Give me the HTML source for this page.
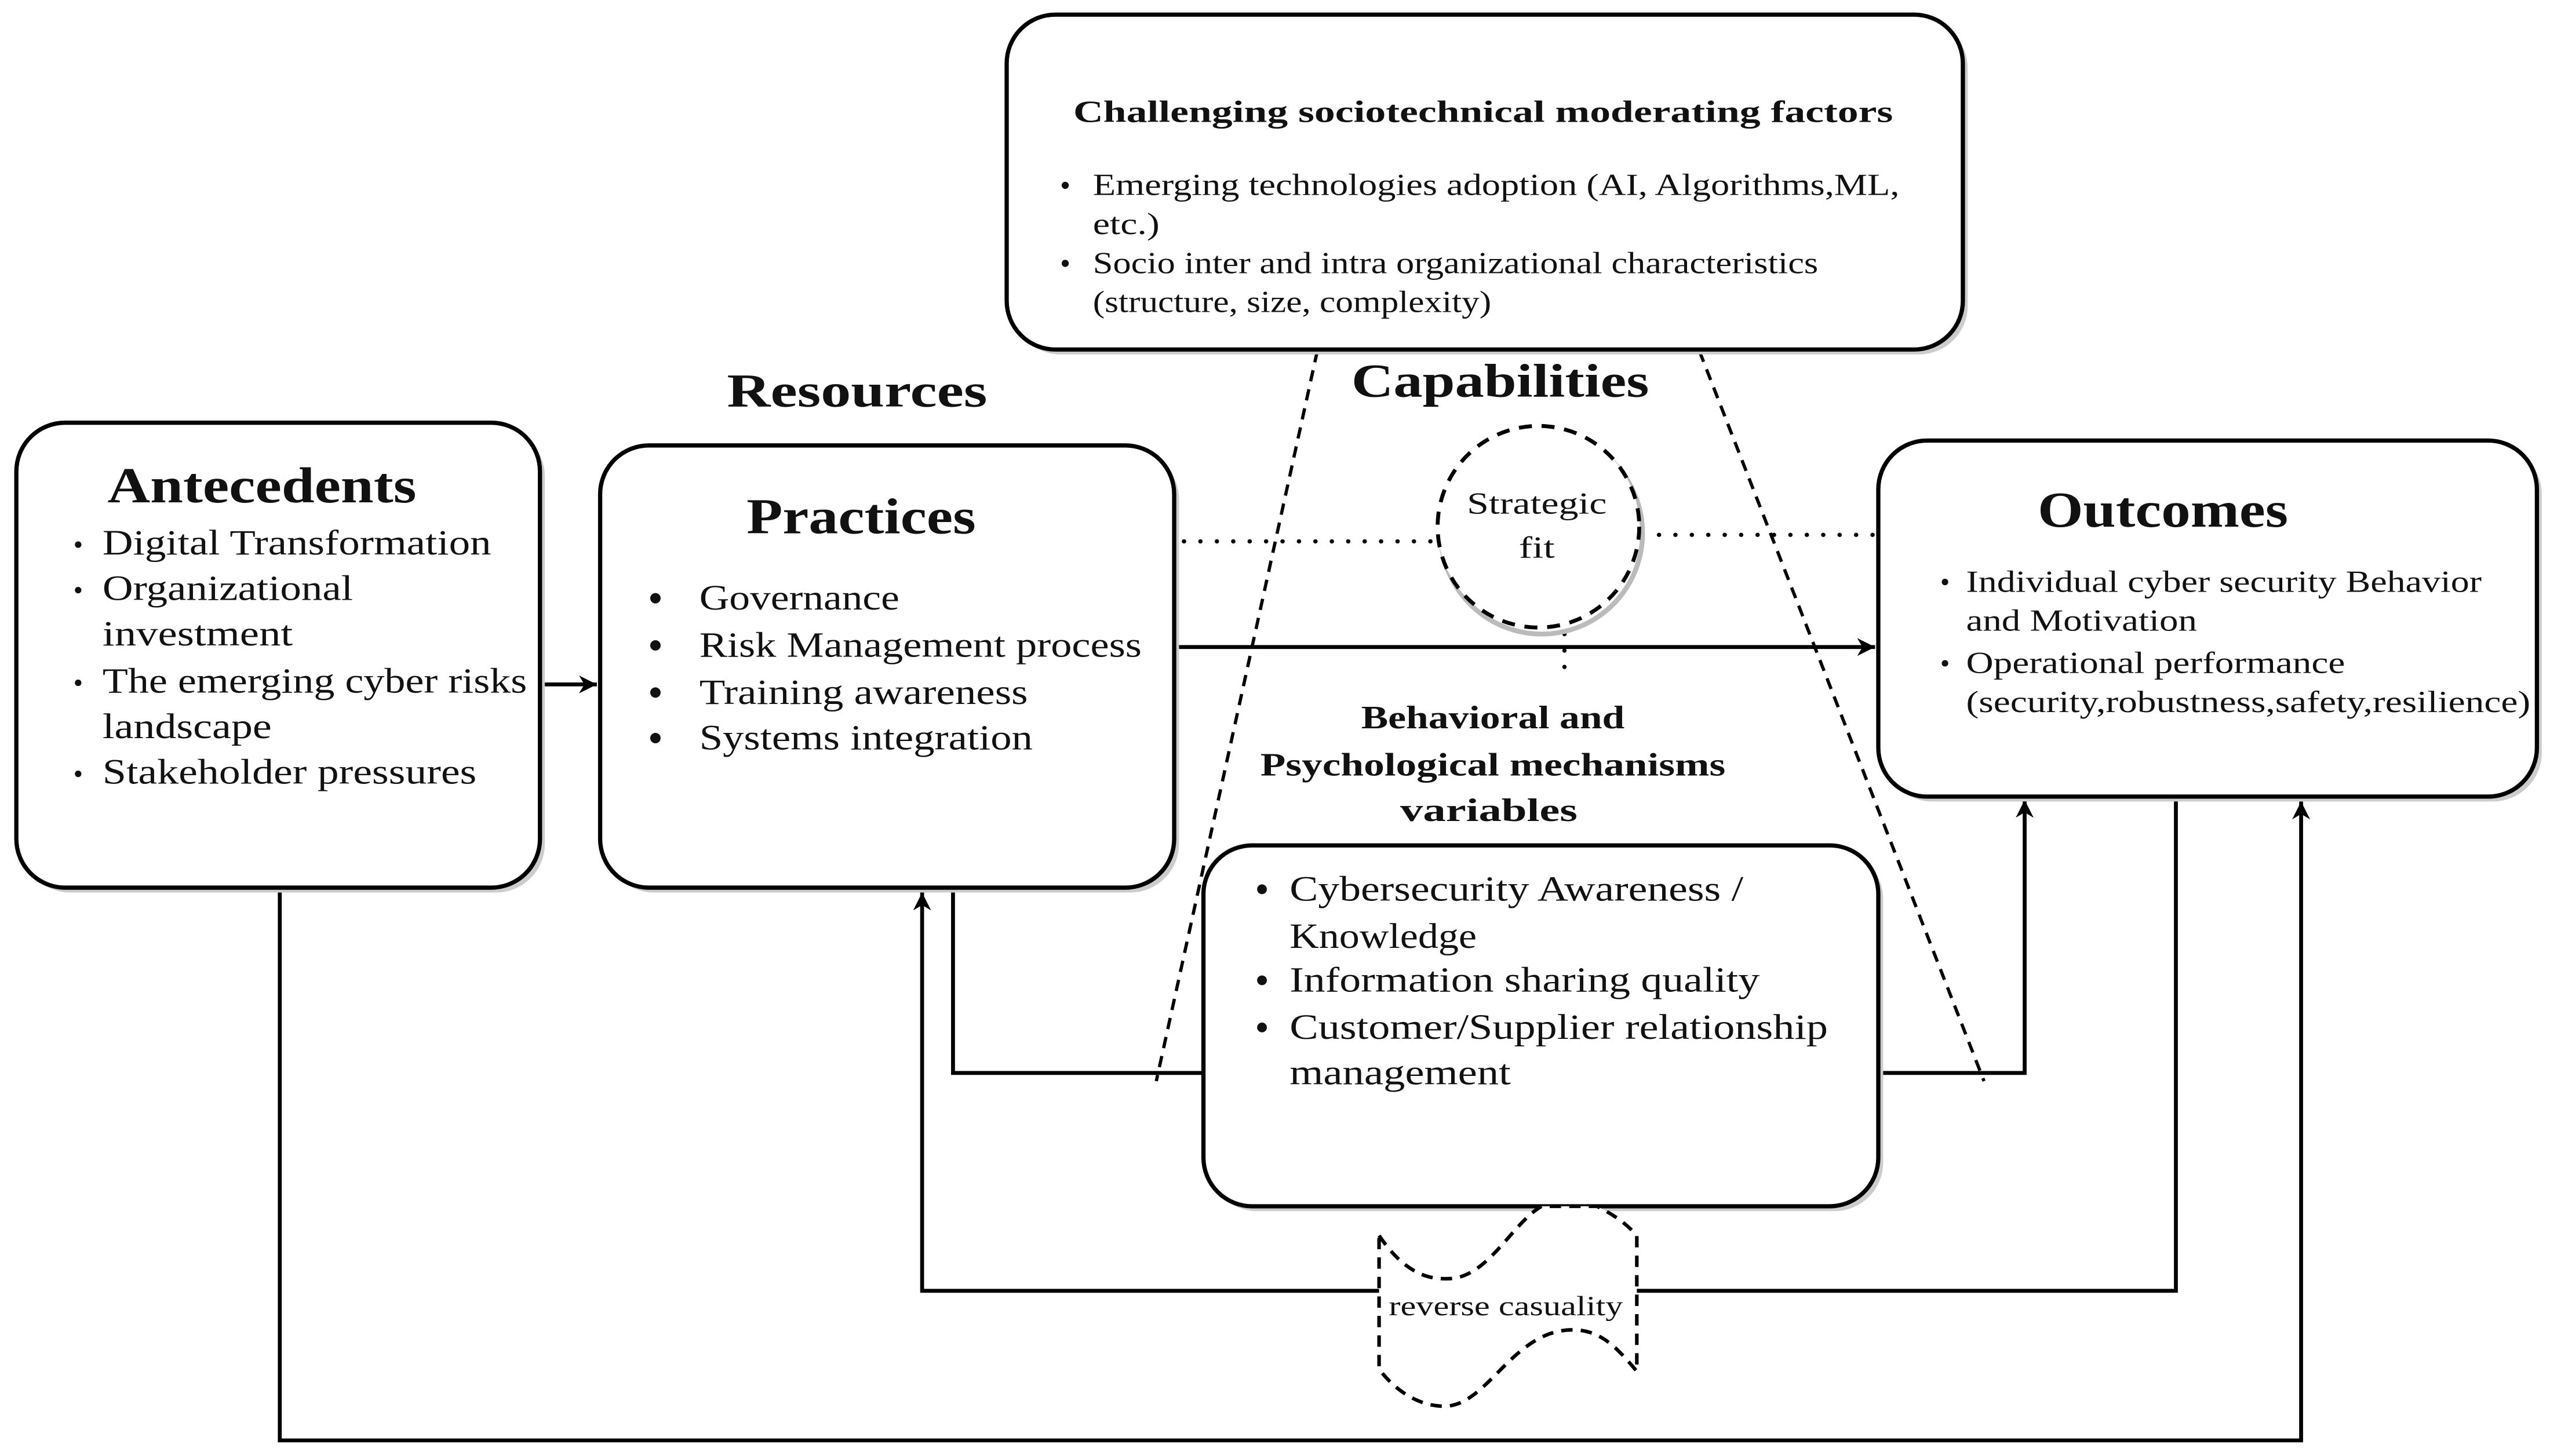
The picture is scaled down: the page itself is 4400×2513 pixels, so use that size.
<!DOCTYPE html>
<html><head><meta charset="utf-8"><style>
html,body{margin:0;padding:0;background:#fff;}
svg{display:block;}
text{font-family:"Liberation Serif",serif;fill:#111;}
.b{font-weight:bold;}
</style></head><body>
<svg width="4400" height="2513" viewBox="0 0 1568 895.6" xmlns="http://www.w3.org/2000/svg">
<defs>
<marker id="ar" viewBox="0 0 10 10" refX="10" refY="5" markerWidth="11" markerHeight="11" orient="auto" markerUnits="userSpaceOnUse">
<path d="M0,0 L10,5 L0,10 L3,5 z" fill="#000"/>
</marker>
</defs>
<g fill="none" stroke="#000" stroke-width="2.4">
<path d="M172,546 V886 H1415 V493" marker-end="url(#ar)"/>
<path d="M1338,490 V794 H567 V549" marker-end="url(#ar)"/>
<path d="M586,546 V660 H740"/>
<path d="M1155,660 H1245 V492" marker-end="url(#ar)"/>
<path d="M332,421 H367" marker-end="url(#ar)"/>
<path d="M722,398 H1153" marker-end="url(#ar)"/>
</g>
<g fill="none" stroke="#000" stroke-width="2.6" stroke-dasharray="0.1,10" stroke-linecap="round">
<path d="M728,333 H884"/>
<path d="M1010,329 H1155"/>
<path d="M962,390 V412"/>
</g>
<g fill="none" stroke="#000" stroke-width="2" stroke-dasharray="7,5">
<path d="M810,216 L711,665"/>
<path d="M1045,216 L1220,665"/>
</g>
<g fill="#ccc">
<rect x="622" y="12" width="588" height="206" rx="30"/>
<rect x="13" y="263" width="322" height="286" rx="30"/>
<rect x="372" y="277" width="353" height="272" rx="30"/>
<rect x="1158" y="274" width="405" height="219" rx="30"/>
<rect x="743" y="523" width="415" height="222" rx="30"/>
</g>
<g fill="#fff" stroke="#000" stroke-width="2.6">
<rect x="619" y="9" width="588" height="206" rx="30"/>
<rect x="10" y="260" width="322" height="286" rx="30"/>
<rect x="369" y="274" width="353" height="272" rx="30"/>
<rect x="1155" y="271" width="405" height="219" rx="30"/>
<rect x="740" y="520" width="415" height="222" rx="30"/>
</g>
<circle cx="947" cy="326" r="62" fill="#fff" stroke="#bbb" stroke-width="3" transform="translate(1,2)"/>
<circle cx="946" cy="324" r="62" fill="#fff" stroke="#000" stroke-width="2.4" stroke-dasharray="8,6"/>
<path d="M848,760 C865,785 880,787 891,786.5 C915,786 930,752 948,742 L982,742 Q998,750 1006.5,760 L1006.5,843.5 C995,830 985,818 967,818 C930,818 915,865 888,865 C870,865 855,852 848,842 Z" fill="#fff" stroke="#000" stroke-width="2.2" stroke-dasharray="7,5"/>
<text x="854" y="809" font-size="17" textLength="144" lengthAdjust="spacingAndGlyphs">reverse casuality</text>

<text class="b" x="660" y="75" font-size="19" textLength="504" lengthAdjust="spacingAndGlyphs">Challenging  sociotechnical moderating factors</text>
<circle cx="655" cy="114" r="2.2" fill="#111"/>
<text x="672" y="120" font-size="19" textLength="496" lengthAdjust="spacingAndGlyphs">Emerging technologies adoption  (AI, Algorithms,ML,</text>
<text x="672" y="144" font-size="19" textLength="41" lengthAdjust="spacingAndGlyphs">etc.)</text>
<circle cx="655" cy="162" r="2.2" fill="#111"/>
<text x="672" y="168" font-size="19" textLength="446" lengthAdjust="spacingAndGlyphs">Socio  inter and intra organizational  characteristics</text>
<text x="672" y="192" font-size="19" textLength="245" lengthAdjust="spacingAndGlyphs">(structure, size,  complexity)</text>

<text class="b" x="447" y="250" font-size="29" textLength="160" lengthAdjust="spacingAndGlyphs">Resources</text>
<text class="b" x="831" y="244" font-size="29" textLength="183" lengthAdjust="spacingAndGlyphs">Capabilities</text>

<text class="b" x="66" y="309" font-size="31" textLength="190" lengthAdjust="spacingAndGlyphs">Antecedents</text>
<g font-size="22">
<circle cx="48" cy="335" r="2" fill="#111"/>
<text x="63" y="341" textLength="239" lengthAdjust="spacingAndGlyphs">Digital Transformation</text>
<circle cx="48" cy="363" r="2" fill="#111"/>
<text x="63" y="369" textLength="154" lengthAdjust="spacingAndGlyphs">Organizational</text>
<text x="63" y="397" textLength="117" lengthAdjust="spacingAndGlyphs">investment</text>
<circle cx="48" cy="420" r="2" fill="#111"/>
<text x="63" y="426" textLength="261" lengthAdjust="spacingAndGlyphs">The emerging cyber risks</text>
<text x="63" y="454" textLength="104" lengthAdjust="spacingAndGlyphs">landscape</text>
<circle cx="48" cy="476" r="2" fill="#111"/>
<text x="63" y="482" textLength="230" lengthAdjust="spacingAndGlyphs">Stakeholder pressures</text>
</g>

<text class="b" x="459" y="328" font-size="31" textLength="141" lengthAdjust="spacingAndGlyphs">Practices</text>
<g font-size="22" fill="#111">
<circle cx="403" cy="368" r="3.2"/><text x="430" y="375" textLength="123" lengthAdjust="spacingAndGlyphs">Governance</text>
<circle cx="403" cy="397" r="3.2"/><text x="430" y="404" textLength="272" lengthAdjust="spacingAndGlyphs">Risk Management process</text>
<circle cx="403" cy="426" r="3.2"/><text x="430" y="433" textLength="202" lengthAdjust="spacingAndGlyphs">Training awareness</text>
<circle cx="403" cy="454" r="3.2"/><text x="430" y="461" textLength="205" lengthAdjust="spacingAndGlyphs">Systems integration</text>
</g>

<text class="b" x="1253" y="324" font-size="31" textLength="154" lengthAdjust="spacingAndGlyphs">Outcomes</text>
<g font-size="19">
<circle cx="1196" cy="358" r="2" fill="#111"/>
<text x="1209" y="364" textLength="317" lengthAdjust="spacingAndGlyphs">Individual cyber security Behavior</text>
<text x="1209" y="388" textLength="142" lengthAdjust="spacingAndGlyphs">and Motivation</text>
<circle cx="1196" cy="408" r="2" fill="#111"/>
<text x="1209" y="414" textLength="233" lengthAdjust="spacingAndGlyphs">Operational performance</text>
<text x="1209" y="438" textLength="347" lengthAdjust="spacingAndGlyphs">(security,robustness,safety,resilience)</text>
</g>

<g class="b" font-size="20">
<text x="837" y="448" textLength="162" lengthAdjust="spacingAndGlyphs">Behavioral and</text>
<text x="775" y="477" textLength="286" lengthAdjust="spacingAndGlyphs">Psychological mechanisms</text>
<text x="861" y="505" textLength="109" lengthAdjust="spacingAndGlyphs">variables</text>
</g>
<g font-size="22" fill="#111">
<circle cx="776" cy="547" r="3"/><text x="793" y="554" textLength="279" lengthAdjust="spacingAndGlyphs">Cybersecurity Awareness /</text>
<text x="793" y="583" textLength="115" lengthAdjust="spacingAndGlyphs">Knowledge</text>
<circle cx="776" cy="603" r="3"/><text x="793" y="610" textLength="289" lengthAdjust="spacingAndGlyphs">Information sharing quality</text>
<circle cx="776" cy="632" r="3"/><text x="793" y="639" textLength="331" lengthAdjust="spacingAndGlyphs">Customer/Supplier relationship</text>
<text x="793" y="667" textLength="136" lengthAdjust="spacingAndGlyphs">management</text>
</g>

<text x="902" y="316" font-size="19" textLength="86" lengthAdjust="spacingAndGlyphs">Strategic</text>
<text x="934" y="343" font-size="19" textLength="22" lengthAdjust="spacingAndGlyphs">fit</text>
</svg>
</body></html>
